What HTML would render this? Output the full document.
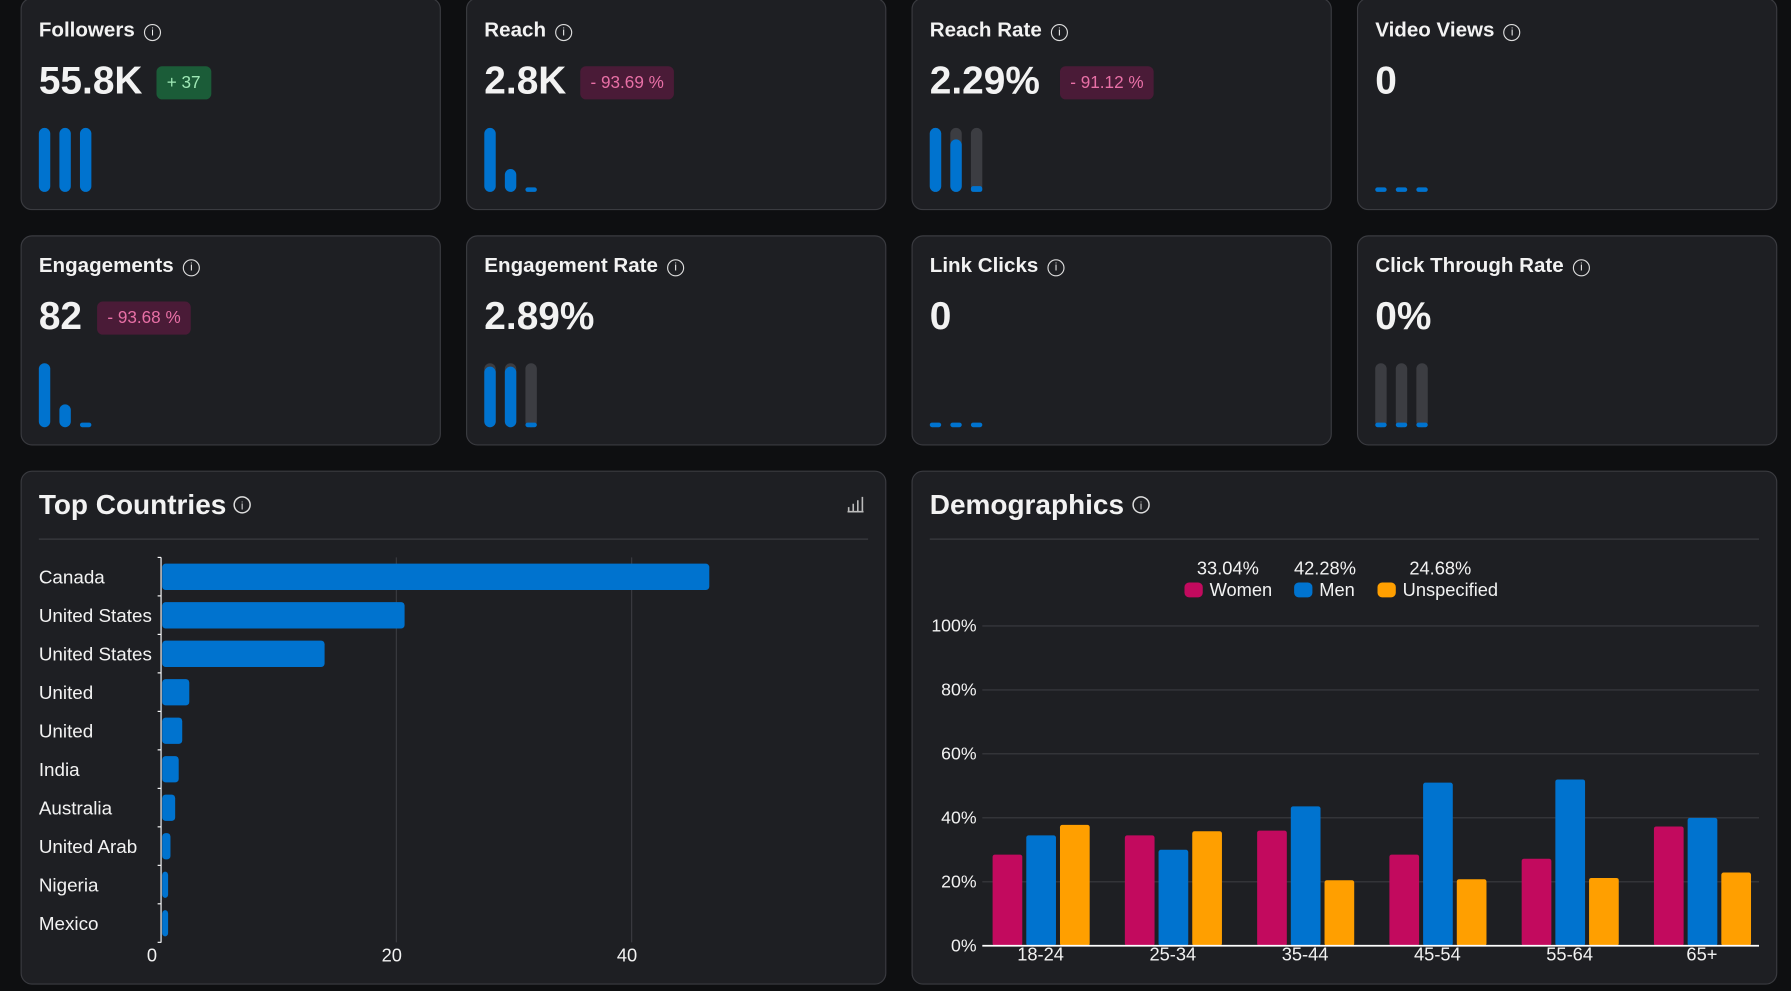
<!DOCTYPE html>
<html><head><meta charset="utf-8">
<style>
html,body{margin:0;padding:0;background:#0e0f11;width:1791px;height:991px;overflow:hidden}
#wrap{position:absolute;left:0;top:0;width:1568px;height:868px;transform:scale(1.14222);transform-origin:0 0;font-family:"Liberation Sans",sans-serif;color:#f2f2f2}
.card{position:absolute;background:#1e1f23;border:1px solid #3a3b40;border-radius:10px;box-sizing:border-box}
.title{position:absolute;left:15px;top:14px;font-size:18px;font-weight:bold;white-space:nowrap}
.info{display:inline-block;width:13px;height:13px;border:1.4px solid #ddd;border-radius:50%;font-size:10px;line-height:13px;text-align:center;font-weight:normal;vertical-align:1px;margin-left:8px;box-sizing:content-box}
.val{position:absolute;left:15px;top:52px;font-size:34px;font-weight:bold}
.badge{position:absolute;top:57px;height:29px;line-height:29px;padding:0 9px;border-radius:5px;font-size:15px}
.g{background:#1b5c38;color:#9fe8b6}
.r{background:#4a1b37;color:#e870a6}
.mb{position:absolute;width:10px;border-radius:5px}
</style></head><body>
<div id="wrap"></div>
<script>
const metricTitles=["Followers","Reach","Reach Rate","Video Views","Engagements","Engagement Rate","Link Clicks","Click Through Rate"];
const metricValues=["55.8K","2.8K","2.29%","0","82","2.89%","0","0%"];
const metricBadges=["+ 37","- 93.69 %","- 91.12 %","","- 93.68 %","","",""];
const metricMini=[[56,56,56],[56,20,4],[56,46,5],[4,4,4],[56,20,4],[53,53,4],[4,4,4],[4,4,4]];
const metricHasTrack=[false,false,true,false,false,true,false,true];
const wrap=document.getElementById('wrap');
const cx=[18,408,798,1188], cy=[-2,206];
metricTitles.forEach((t,i)=>{
  const c=document.createElement('div');c.className='card';
  
  
  const x=cx[i%4],y=cy[Math.floor(i/4)];
  c.style.cssText=`left:${x}px;top:${y}px;width:368px;height:${i<4?186:184}px`;
  const off=i<4?2:0;
  let h=`<div class="title" style="top:${15+off}px">${t}<span class="info">i</span></div>`;
  h+=`<div class="val" style="top:${51+off}px">${metricValues[i]}</div>`;
  if(metricBadges[i]){
    const bx={"55.8K":118,"2.8K":99,"2.29%":129,"82":66}[metricValues[i]];
    h+=`<div class="badge ${metricBadges[i][0]=='+'?'g':'r'}" style="left:${bx}px;top:${57+off}px">${metricBadges[i]}</div>`;
  }
  c.innerHTML=h;
  metricMini[i].forEach((v,k)=>{
    const bx=15+k*18, bottom=167+off;
    if(metricHasTrack[i]){
      const tr=document.createElement('div');tr.className='mb';
      
      
      tr.style.cssText=`left:${bx}px;top:${bottom-56}px;height:56px;background:#3c3d42`;
      c.appendChild(tr);
    }
    const b=document.createElement('div');b.className='mb';
    
    
    b.style.cssText=`left:${bx}px;top:${bottom-v}px;height:${v}px;background:#0073cf;border-radius:${v<8?'2px':'5px'}`;
    c.appendChild(b);
  });
  wrap.appendChild(c);
});
</script>

<script>
// Top countries chart
const countries=["Canada","United States","United States","United","United","India","Australia","United Arab","Nigeria","Mexico"];
const countryValues=[46.6,20.7,13.9,2.4,1.8,1.5,1.2,0.8,0.6,0.6];
const countryTicks=[0,20,40];
(function(){
const W=document.getElementById('wrap');
const c=document.createElement('div');c.className='card';


c.style.cssText='left:18px;top:412px;width:758px;height:450px';
W.appendChild(c);
const ns='http://www.w3.org/2000/svg';
const svg=document.createElementNS(ns,'svg');
svg.setAttribute('width','758');svg.setAttribute('height','450');
svg.style.position='absolute';svg.style.left='-1px';svg.style.top='-1px';
c.appendChild(svg);
const ox=18,oy=412;
const xs=v=>141-ox+v*10.3;
const rowY=i=>505-oy+i*33.7;
function el(tag,attrs,name,inter){const e=document.createElementNS(ns,tag);for(const k in attrs)e.setAttribute(k,attrs[k]);


svg.appendChild(e);return e;}
let t=el('text',{x:16,y:38,fill:'#f2f2f2','font-size':24.5,'font-weight':'bold','font-family':'Liberation Sans, sans-serif'},'chart-title',false);t.textContent='Top Countries';
el('circle',{cx:194,cy:30,r:7,fill:'none',stroke:'#ddd','stroke-width':1.3},'info-icon',true);
t=el('text',{x:194,y:34,fill:'#ddd','font-size':10,'text-anchor':'middle','font-family':'Liberation Sans, sans-serif'},'info-icon-glyph',false);t.textContent='i';
el('path',{d:'M724 36 h14 M725 36 v-4 M729 36 v-7 M733 36 v-10 M737 36 v-13',stroke:'#bbb','stroke-width':1.4,fill:'none'},'chart-type-icon',true);
el('line',{x1:16,y1:60,x2:742,y2:60,stroke:'#3a3b40'},'title-divider',false);
countryTicks.forEach(v=>{
  if(v>0) el('line',{x1:xs(v),y1:76,x2:xs(v),y2:413,stroke:'#3a3b40'},'x-gridline',false);
  const tx=el('text',{x:xs(v)-(v==0?8:4),y:430,fill:'#f2f2f2','font-size':16,'text-anchor':'middle','font-family':'Liberation Sans, sans-serif'},'x-tick-label',false);tx.textContent=v;
});
countries.forEach((n,i)=>{
  const y=rowY(i);
  const tl=el('text',{x:16,y:y+6,fill:'#f2f2f2','font-size':16.5,'font-family':'Liberation Sans, sans-serif'},'country-label',false);tl.textContent=n;
  el('rect',{x:xs(0)+1,y:y-11.5,width:Math.max(xs(countryValues[i])-xs(0)-1,3),height:23,rx:3,fill:'#0073cf'},'country-bar',true);
});
el('line',{x1:xs(0),y1:rowY(0)-17,x2:xs(0),y2:rowY(9)+17,stroke:'#fff','stroke-width':1},'y-axis-line',false);
for(let i=0;i<=10;i++){const y=rowY(0)-17+i*33.7;el('line',{x1:xs(0)-3,y1:y,x2:xs(0),y2:y,stroke:'#fff'},'y-axis-tick',false);}
})();
</script>

<script>
// Demographics chart
const ageGroups=["18-24","25-34","35-44","45-54","55-64","65+"];
const womenValues=[28.5,34.5,36,28.5,27.2,37.3];
const menValues=[34.5,30,43.6,51,52,40];
const unspecValues=[37.8,35.8,20.5,20.8,21.2,22.9];
const yTicks=[0,20,40,60,80,100];
const legendNames=["Women","Men","Unspecified"];
const legendPcts=["33.04%","42.28%","24.68%"];
(function(){
const W=document.getElementById('wrap');
const c=document.createElement('div');c.className='card';


c.style.cssText='left:798px;top:412px;width:758px;height:450px';
W.appendChild(c);
const ns='http://www.w3.org/2000/svg';
const svg=document.createElementNS(ns,'svg');
svg.setAttribute('width','758');svg.setAttribute('height','450');
svg.style.position='absolute';svg.style.left='-1px';svg.style.top='-1px';
c.appendChild(svg);
const ox=798,oy=412;
function el(tag,attrs,name,inter){const e=document.createElementNS(ns,tag);for(const k in attrs)e.setAttribute(k,attrs[k]);


svg.appendChild(e);return e;}
const F='Liberation Sans, sans-serif';
let t=el('text',{x:16,y:38,fill:'#f2f2f2','font-size':24.5,'font-weight':'bold','font-family':F},'chart-title',false);t.textContent='Demographics';
el('circle',{cx:201,cy:30,r:7,fill:'none',stroke:'#ddd','stroke-width':1.3},'info-icon',true);
t=el('text',{x:201,y:34,fill:'#ddd','font-size':10,'text-anchor':'middle','font-family':F},'info-icon-glyph',false);t.textContent='i';
el('line',{x1:16,y1:60,x2:742,y2:60,stroke:'#3a3b40'},'title-divider',false);
const ys=v=>828-oy-v*2.8;
const x0=860-ox,x1=1540-ox;
yTicks.forEach(v=>{
  if(v>0) el('line',{x1:x0,y1:ys(v),x2:x1,y2:ys(v),stroke:'#3a3b40'},'y-gridline',false);
  const tx=el('text',{x:855-ox,y:ys(v)+5,fill:'#f2f2f2','font-size':15.5,'text-anchor':'end','font-family':F},'y-tick-label',false);tx.textContent=v+'%';
});
const colors=['#c20a5e','#0073cf','#ff9f00'];
const series=[womenValues,menValues,unspecValues];
const step=115.8, first=911-ox;
ageGroups.forEach((g,i)=>{
  const cxg=first+step*i;
  series.forEach((s,k)=>{
    const bx=cxg-42+k*29.5;
    el('rect',{x:bx,y:ys(s[i]),width:26,height:ys(0)-ys(s[i]),rx:2,fill:colors[k]},'bar-'+legendNames[k].toLowerCase()+'-'+g,true);
  });
  const tx=el('text',{x:cxg,y:429,fill:'#f2f2f2','font-size':16,'text-anchor':'middle','font-family':F},'x-tick-label',false);tx.textContent=g;
});
el('line',{x1:x0,y1:ys(0),x2:x1,y2:ys(0),stroke:'#fff','stroke-width':1.5},'x-axis-line',false);
const lx=[1037,1133,1206], px=[1075,1160,1261];
legendNames.forEach((n,k)=>{
  el('rect',{x:lx[k]-ox,y:510-oy,width:16,height:13,rx:4,fill:colors[k]},'legend-swatch',true);
  const tn=el('text',{x:lx[k]-ox+22,y:522-oy,fill:'#f2f2f2','font-size':16,'font-family':F},'legend-entry',true);tn.textContent=n;
  const tp=el('text',{x:px[k]-ox,y:503-oy,fill:'#f2f2f2','font-size':16,'text-anchor':'middle','font-family':F},'legend-percentage',false);tp.textContent=legendPcts[k];
});
})();
</script>
</body></html>
